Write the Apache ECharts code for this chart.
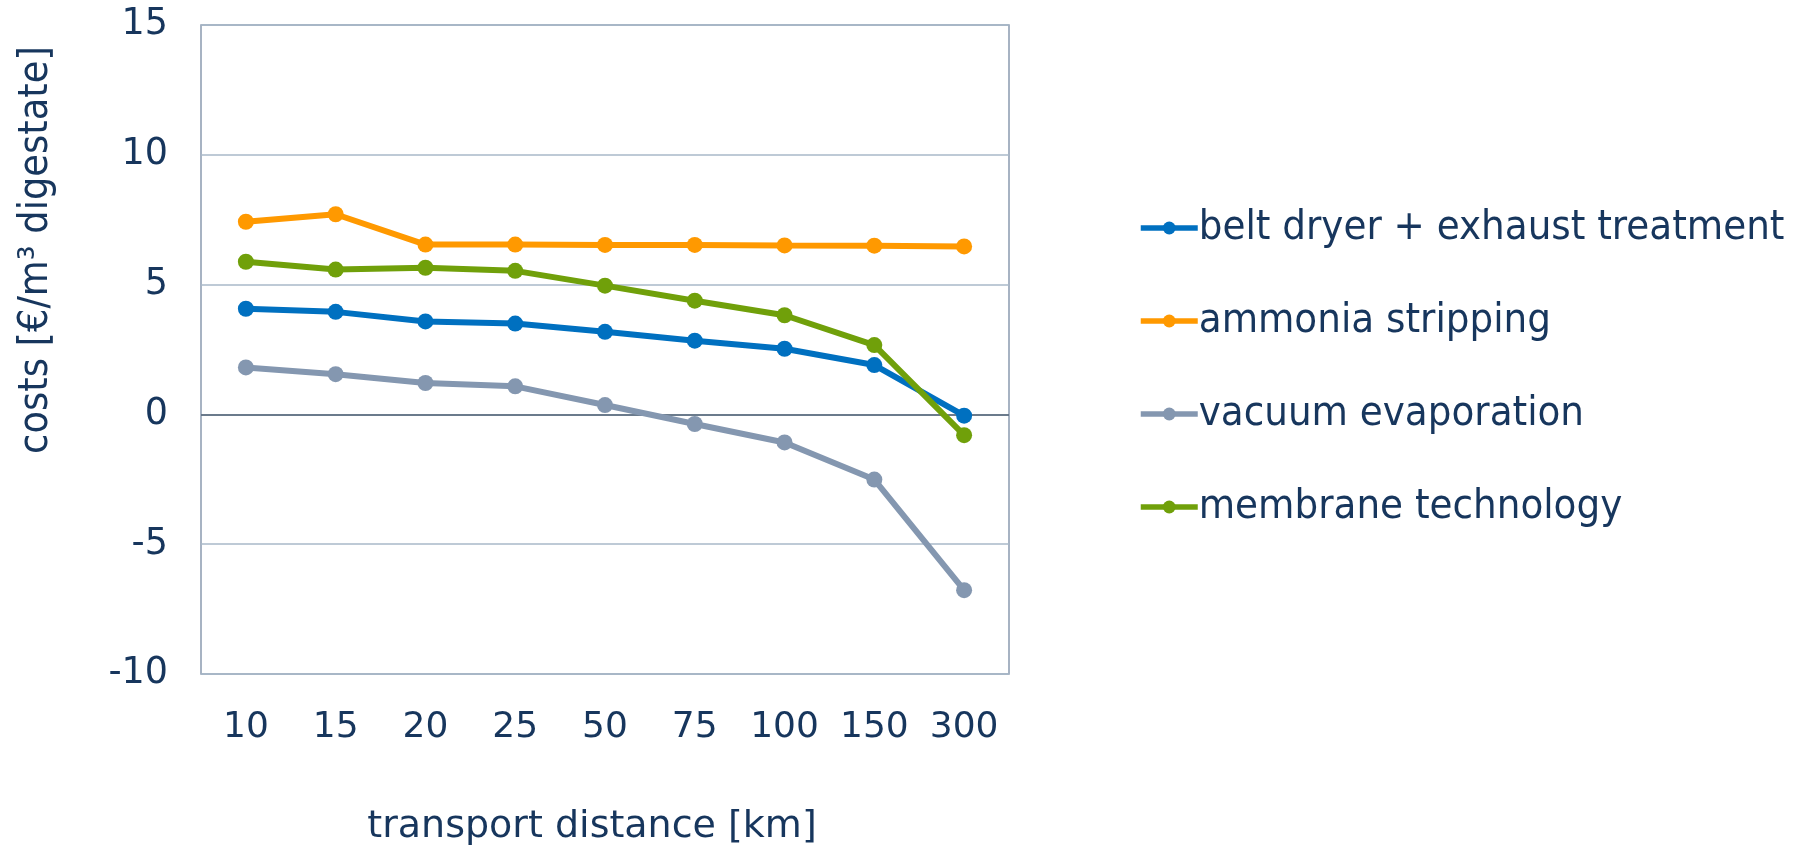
<!DOCTYPE html>
<html><head><meta charset="utf-8">
<script src="https://cdn.jsdelivr.net/npm/echarts@6/dist/echarts.min.js"></script>
<style>html,body{margin:0;padding:0;background:#fff}#c{width:1802px;height:851px}</style>
</head><body><div id="c"></div>
<script>
const categories = ['10','15','20','25','50','75','100','150','300'];
const beltDryer = [4.07, 3.95, 3.58, 3.50, 3.18, 2.84, 2.53, 1.90, -0.05];
const ammoniaStripping = [7.42, 7.71, 6.54, 6.54, 6.53, 6.53, 6.51, 6.50, 6.47];
const vacuumEvaporation = [1.81, 1.55, 1.21, 1.08, 0.36, -0.37, -1.08, -2.51, -6.77];
const membraneTechnology = [5.88, 5.58, 5.65, 5.53, 4.96, 4.38, 3.82, 2.67, -0.80];
const seriesNames = ['belt dryer + exhaust treatment','ammonia stripping','vacuum evaporation','membrane technology'];
const yTicks = {min: -10, max: 15, interval: 5};

const textColor = '#17365d';
const colors = ['#0070c0', '#ff9900', '#8497b0', '#70a00a'];
const dataSets = [beltDryer, ammoniaStripping, vacuumEvaporation, membraneTechnology];

const chart = echarts.init(document.getElementById('c'));
chart.setOption({
  animation: false,
  backgroundColor: '#ffffff',
  color: colors,
  grid: {left: 201, right: 793, top: 25, bottom: 176, show: true, borderColor: '#8a9bb0', borderWidth: 1.5, backgroundColor: 'transparent'},
  legend: {
    orient: 'vertical', left: 1133, top: 200,
    itemWidth: 57, itemHeight: 16, itemGap: 47,
    lineStyle: {width: 5.5},
    textStyle: {fontFamily: 'DejaVu Sans Condensed', fontSize: 41.5, color: textColor, lineHeight: 46, padding: [0,0,0,-4]},
    data: seriesNames
  },
  xAxis: {
    type: 'category', data: categories, boundaryGap: true,
    axisLine: {show: false, onZero: false},
    axisTick: {show: false},
    axisLabel: {fontFamily: 'DejaVu Sans', fontSize: 36, color: textColor, margin: 36},
    name: 'transport distance [km]', nameLocation: 'middle', nameGap: 134,
    nameTextStyle: {fontFamily: 'DejaVu Sans', fontSize: 38, color: textColor, padding: [0, 26, 0, 0]}
  },
  yAxis: {
    type: 'value', min: yTicks.min, max: yTicks.max, interval: yTicks.interval,
    axisLine: {show: false}, axisTick: {show: false},
    axisLabel: {fontFamily: 'DejaVu Sans', fontSize: 36.5, color: textColor, margin: 33},
    splitLine: {show: true, lineStyle: {color: '#a9b8c9', width: 1.5}}
  },
  graphic: [{
    type: 'text', x: 36, y: 250, rotation: Math.PI / 2,
    style: {text: 'costs [€/m³ digestate]', fontFamily: 'DejaVu Sans Condensed', fontSize: 41, fill: textColor, align: 'center', verticalAlign: 'middle'}
  }],
  series: dataSets.map((d, i) => ({
    name: seriesNames[i], type: 'line', data: d,
    symbol: 'circle', symbolSize: 16,
    lineStyle: {width: 6, color: colors[i]},
    itemStyle: {color: colors[i]},
    z: 3,
    markLine: i === 0 ? {silent: true, symbol: 'none', label: {show: false}, z: 1,
      lineStyle: {color: '#4f6173', width: 1.5, type: 'solid'}, data: [{yAxis: 0}]} : undefined
  }))
});
</script></body></html>
